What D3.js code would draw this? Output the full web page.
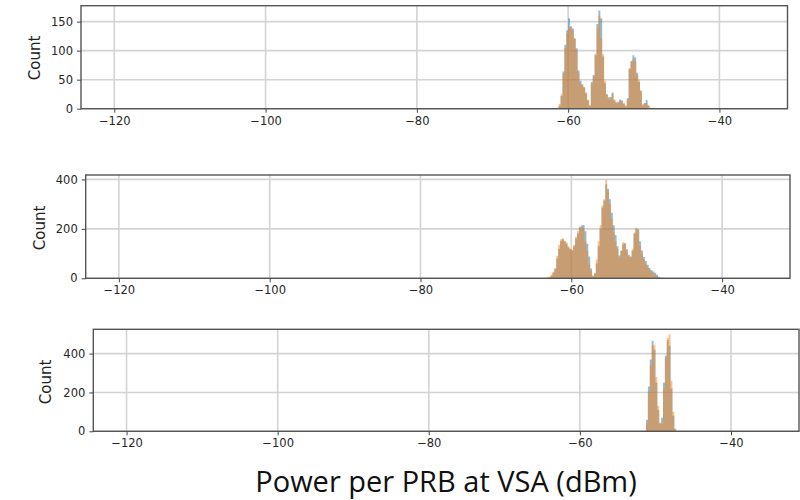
<!DOCTYPE html>
<html>
<head>
<meta charset="utf-8">
<script src="https://cdn.jsdelivr.net/npm/d3@7"></script>
<style>
    body { margin: 0; background: #fff; }
    .tick text { font-family: "DejaVu Sans", sans-serif; font-size: 11.5px; fill: #262626; }
    .tick line { stroke: #444; stroke-width: 1; }
    .count-label { font-family: "DejaVu Sans", sans-serif; font-size: 15px; fill: #222; }
    .x-title { font-family: "Open Sans", sans-serif; font-size: 29px; fill: #111; }
</style>
</head>
<body>
<script>
// Shared x range and ticks (dBm)
const xDomain = [-124.4, -31.0];
const xTicks = [-120, -100, -80, -60, -40];
const binWidth = 0.25;

// Panel 1 histogram counts, bins of 0.25 dBm starting at -61.5
const panel1Start = -61.5;
const panel1Blue = [0, 5, 22, 64, 110, 135, 156, 142, 138, 120, 104, 66, 48, 42, 36, 26, 14, 5,
    46, 58, 92, 146, 169, 156, 90, 44, 25, 18, 20, 28, 14, 10, 12, 16, 14, 8, 4,
    18, 68, 82, 92, 88, 62, 46, 30, 6, 10, 15, 5, 1, 0, 1];
const panel1Orange = [2, 8, 25, 60, 105, 130, 140, 141, 135, 122, 100, 62, 45, 40, 38, 28, 16, 7,
    42, 55, 95, 140, 160, 122, 94, 48, 24, 20, 16, 26, 16, 12, 9, 14, 12, 10, 6,
    16, 70, 80, 86, 82, 58, 50, 32, 8, 8, 10, 6, 2, 1, 2];
const panel1YTicks = [0, 50, 100, 150];

// Panel 2 histogram counts, bins of 0.25 dBm starting at -63.25
const panel2Start = -63.25;
const panel2Blue = [0, 3, 10, 22, 38, 80, 120, 150, 158, 150, 140, 125, 118, 112, 130, 160, 180, 205,
    214, 216, 190, 140, 88, 40, 10, 18, 60, 130, 200, 285, 315, 380, 362, 320, 265, 215,
    175, 130, 92, 110, 138, 142, 118, 95, 88, 110, 180, 200, 198, 150, 112, 86, 70, 55,
    42, 34, 28, 22, 14, 6];
const panel2Orange = [3, 6, 14, 26, 42, 90, 135, 158, 162, 152, 146, 130, 120, 116, 136, 168, 190, 210,
    206, 200, 150, 110, 60, 30, 8, 22, 76, 150, 215, 295, 320, 398, 352, 300, 240, 190,
    150, 120, 84, 112, 146, 140, 112, 88, 86, 120, 186, 204, 190, 130, 100, 78, 60, 48,
    36, 28, 22, 14, 8, 2];
const panel2YTicks = [0, 200, 400];

// Panel 3 histogram counts, bins of 0.25 dBm starting at -51.5
const panel3Start = -51.5;
const panel3Blue = [2, 60, 230, 370, 465, 420, 250, 110, 40, 70, 250, 390, 470, 440, 220, 80, 10];
const panel3Orange = [0, 40, 200, 340, 440, 445, 280, 130, 45, 40, 220, 380, 480, 500, 260, 100, 15];
const panel3YTicks = [0, 200, 400];

// Series colours (matplotlib defaults with alpha 0.5)
const blueColor = "rgba(31, 119, 180, 0.5)";
const orangeColor = "rgba(255, 127, 14, 0.5)";

// Panel layout
const panels = [
    { start: panel1Start, blue: panel1Blue, orange: panel1Orange, yTicks: panel1YTicks,
      box: { left: 81, right: 787.5, top: 5.7, bottom: 108.7 }, label: { x: 35, y: 58 } },
    { start: panel2Start, blue: panel2Blue, orange: panel2Orange, yTicks: panel2YTicks,
      box: { left: 85.7, right: 790, top: 175, bottom: 278.3 }, label: { x: 40, y: 228 } },
    { start: panel3Start, blue: panel3Blue, orange: panel3Orange, yTicks: panel3YTicks,
      box: { left: 93.3, right: 799, top: 329.3, bottom: 431.3 }, label: { x: 46, y: 382 } }
];

const svg = d3.select("body")
    .append("svg")
    .attr("width", 800)
    .attr("height", 500);

panels.forEach(p => {
    const b = p.box;
    const maxCount = d3.max(p.blue.concat(p.orange));

    const xScale = d3.scaleLinear().domain(xDomain).range([b.left, b.right]);
    const yScale = d3.scaleLinear().domain([0, maxCount * 1.05]).range([b.bottom, b.top]);

    const g = svg.append("g");

    // Grid lines
    g.selectAll(".vgrid")
        .data(xTicks)
        .join("line")
        .attr("x1", d => xScale(d)).attr("x2", d => xScale(d))
        .attr("y1", b.top).attr("y2", b.bottom)
        .attr("stroke", "#d3d3d3")
        .attr("stroke-width", 1.6);

    g.selectAll(".hgrid")
        .data(p.yTicks)
        .join("line")
        .attr("x1", b.left).attr("x2", b.right)
        .attr("y1", d => yScale(d)).attr("y2", d => yScale(d))
        .attr("stroke", "#d3d3d3")
        .attr("stroke-width", 1.6);

    // Histogram as a stepped area, blue first then orange on top
    const histArea = d3.area()
        .curve(d3.curveStepAfter)
        .x(d => xScale(d.x))
        .y0(yScale(0))
        .y1(d => yScale(d.count));

    [[p.blue, blueColor], [p.orange, orangeColor]].forEach(([counts, color]) => {
        const bins = counts.map((c, i) => ({ x: p.start + i * binWidth, count: c }));
        bins.push({ x: p.start + counts.length * binWidth, count: counts[counts.length - 1] });
        g.append("path")
            .datum(bins)
            .attr("d", histArea)
            .attr("fill", color);
    });

    // Frame
    g.append("rect")
        .attr("x", b.left).attr("y", b.top)
        .attr("width", b.right - b.left)
        .attr("height", b.bottom - b.top)
        .attr("fill", "none")
        .attr("stroke", "#555")
        .attr("stroke-width", 1.4);

    // Axes
    const bottomAxis = d3.axisBottom(xScale).tickValues(xTicks).tickSize(4).tickPadding(4);
    g.append("g")
        .attr("transform", `translate(0, ${b.bottom})`)
        .call(bottomAxis)
        .call(a => a.select(".domain").remove());

    const leftAxis = d3.axisLeft(yScale).tickValues(p.yTicks).tickSize(4).tickPadding(4);
    g.append("g")
        .attr("transform", `translate(${b.left}, 0)`)
        .call(leftAxis)
        .call(a => a.select(".domain").remove());

    // Y label
    g.append("text")
        .attr("class", "count-label")
        .attr("transform", `translate(${p.label.x}, ${p.label.y}) rotate(-90)`)
        .attr("text-anchor", "middle")
        .attr("dominant-baseline", "central")
        .text("Count");
});

// Shared x label
svg.append("text")
    .attr("class", "x-title")
    .attr("x", 446)
    .attr("y", 492)
    .attr("text-anchor", "middle")
    .text("Power per PRB at VSA (dBm)");
</script>
</body>
</html>
